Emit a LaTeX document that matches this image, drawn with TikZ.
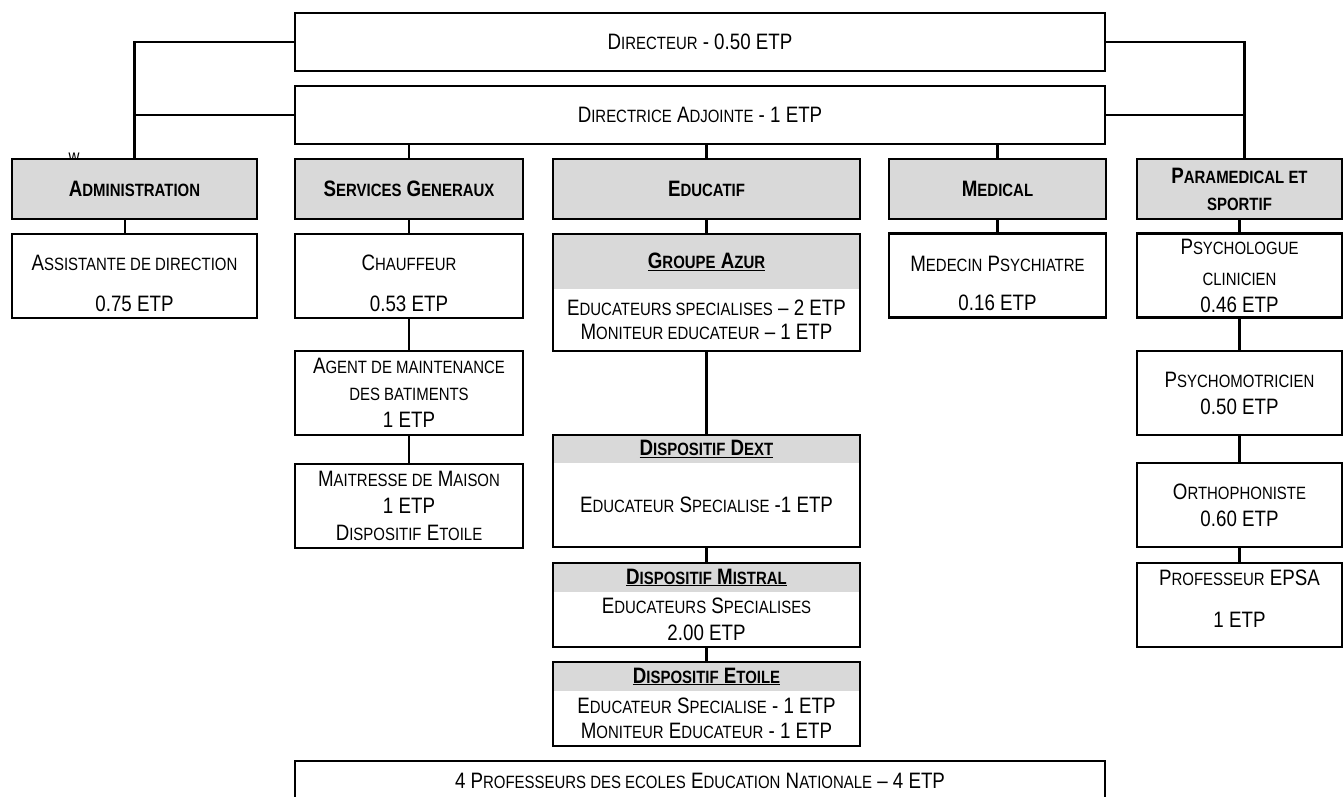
\documentclass[tikz,border=0pt]{standalone}
\usepackage{fontspec}
\setmainfont[FakeStretch=0.84]{Liberation Sans}
\usetikzlibrary{positioning}
\definecolor{headgray}{HTML}{D9D9D9}
% small capitals made by hand
\newcommand\sm[1]{{\fontsize{17.8}{27}\selectfont #1}}
\tikzset{
every node/.style={font=\fontsize{22.3}{27}\selectfont, align=center, inner sep=0pt, outer sep=0pt},
link/.style={line width=2.4pt}, % connectors between boxes
box/.style={draw, line width=2.4pt, fill=white, minimum height=84pt}, % a plain post
cat/.style={box, fill=headgray, minimum height=60pt, font=\fontsize{22.3}{27}\selectfont\bfseries}, % a department
head/.style={fill=headgray, font=\fontsize{22.3}{27}\selectfont\bfseries}, % title strip of a group
body/.style={fill=white}, % staff part of a group
}

\begin{document}
\begin{tikzpicture}[x=1pt, y=-1pt]
\useasboundingbox (0,0) rectangle (1343,796);

% direction
\node[box, minimum width=810pt, minimum height=58pt] (dir) at (700,42) {D\sm{IRECTEUR} - 0.50 ETP};
\node[box, minimum width=810pt, minimum height=58pt] (adj) at (700,115) {D\sm{IRECTRICE} A\sm{DJOINTE} - 1 ETP};

\node[font=\fontsize{18}{20}\selectfont] (wmark) at (74,158) {w};

% departments
\node[cat, minimum width=245pt] (admin) at (134.5,189) {A\sm{DMINISTRATION}};
\node[cat, minimum width=228pt] (serv) at (409,189) {S\sm{ERVICES} G\sm{ENERAUX}};
\node[cat, minimum width=307pt] (educ) at (706.5,189) {E\sm{DUCATIF}};
\node[cat, minimum width=217pt] (med) at (997.5,189) {M\sm{EDICAL}};
\node[cat, minimum width=205pt] (para) at (1239.5,189) {P\sm{ARAMEDICAL ET}\\\sm{SPORTIF}};

% administration
\node[box, minimum width=245pt] (assist) at (134.5,276) {\rule{0pt}{31pt}A\sm{SSISTANTE DE DIRECTION}\\[14pt]0.75 ETP};

% services generaux
\node[box, minimum width=228pt] (chauf) at (409,276) {\rule{0pt}{31pt}C\sm{HAUFFEUR}\\[14pt]0.53 ETP};
\node[box, minimum width=228pt] (agent) at (409,393) {A\sm{GENT DE MAINTENANCE}\\\sm{DES BATIMENTS}\\1 ETP};
\node[box, minimum width=228pt] (maison) at (409,506) {M\sm{AITRESSE DE} M\sm{AISON}\\1 ETP\\D\sm{ISPOSITIF} E\sm{TOILE}};

% educatif
\node[head, minimum width=307pt, minimum height=55pt] (azurH) at (706.5,261.5) {\underline{G\sm{ROUPE} A\sm{ZUR}}};
\node[body, minimum width=307pt, minimum height=62pt, below=0pt of azurH] (azurB) {E\sm{DUCATEURS SPECIALISES} -- 2 ETP\\[-3pt]M\sm{ONITEUR EDUCATEUR} -- 1 ETP};
\draw[link] (azurH.north west) rectangle (azurB.south east);

\node[head, minimum width=307pt, minimum height=28pt] (dextH) at (706.5,449) {\underline{D\sm{ISPOSITIF} D\sm{EXT}}};
\node[body, minimum width=307pt, minimum height=84pt, below=0pt of dextH] (dextB) {E\sm{DUCATEUR} S\sm{PECIALISE} -1 ETP};
\draw[link] (dextH.north west) rectangle (dextB.south east);

\node[head, minimum width=307pt, minimum height=29pt] (mistralH) at (706.5,577.5) {\underline{D\sm{ISPOSITIF} M\sm{ISTRAL}}};
\node[body, minimum width=307pt, minimum height=55pt, below=0pt of mistralH] (mistralB) {E\sm{DUCATEURS} S\sm{PECIALISES}\\2.00 ETP};
\draw[link] (mistralH.north west) rectangle (mistralB.south east);

\node[head, minimum width=307pt, minimum height=29pt] (etoileH) at (706.5,676.5) {\underline{D\sm{ISPOSITIF} E\sm{TOILE}}};
\node[body, minimum width=307pt, minimum height=55pt, below=0pt of etoileH] (etoileB) {E\sm{DUCATEUR} S\sm{PECIALISE} - 1 ETP\\[-2pt]M\sm{ONITEUR} E\sm{DUCATEUR} - 1 ETP};
\draw[link] (etoileH.north west) rectangle (etoileB.south east);

% medical
\node[box, minimum width=217pt] (medecin) at (997.5,275.5) {\rule{0pt}{31pt}M\sm{EDECIN} P\sm{SYCHIATRE}\\[12pt]0.16 ETP};

% paramedical
\node[box, minimum width=205pt] (psylog) at (1239.5,275.5) {P\sm{SYCHOLOGUE}\\[4pt]\sm{CLINICIEN}\\0.46 ETP};
\node[box, minimum width=205pt] (psymot) at (1239.5,393) {P\sm{SYCHOMOTRICIEN}\\0.50 ETP};
\node[box, minimum width=205pt] (ortho) at (1239.5,505) {O\sm{RTHOPHONISTE}\\0.60 ETP};
\node[box, minimum width=205pt] (epsa) at (1239.5,605) {P\sm{ROFESSEUR} EPSA\\[15pt]1 ETP\rule[-12pt]{0pt}{12pt}};

% education nationale
\node[box, minimum width=810pt, minimum height=40pt] (ecoles) at (700,781) {4 P\sm{ROFESSEURS DES ECOLES} E\sm{DUCATION} N\sm{ATIONALE} -- 4 ETP};

% links
\coordinate (rightbus) at ([xshift=5pt]para.north);
\draw[link] (dir.west) -| (admin.north);
\draw[link] (adj.west) -- (adj.west -| admin.north);
\draw[link] (dir.east) -| (rightbus);
\draw[link] (adj.east) -- (adj.east -| rightbus);
\foreach \c in {serv, educ, med}
  \draw[link] (adj.south -| \c.north) -- (\c.north);

\draw[link] ([xshift=-9.5pt]admin.south) -- ([xshift=-9.5pt]assist.north);
\draw[link] (serv) -- (chauf);
\draw[link] (chauf) -- (agent);
\draw[link] (agent) -- (maison);
\draw[link] (educ) -- (azurH);
\draw[link] (azurB) -- (dextH);
\draw[link] (dextB) -- (mistralH);
\draw[link] (mistralB) -- (etoileH);
\draw[link] (med) -- (medecin);
\draw[link] (para) -- (psylog);
\draw[link] (psylog) -- (psymot);
\draw[link] (psymot) -- (ortho);
\draw[link] (ortho) -- (epsa);

\end{tikzpicture}
\end{document}
